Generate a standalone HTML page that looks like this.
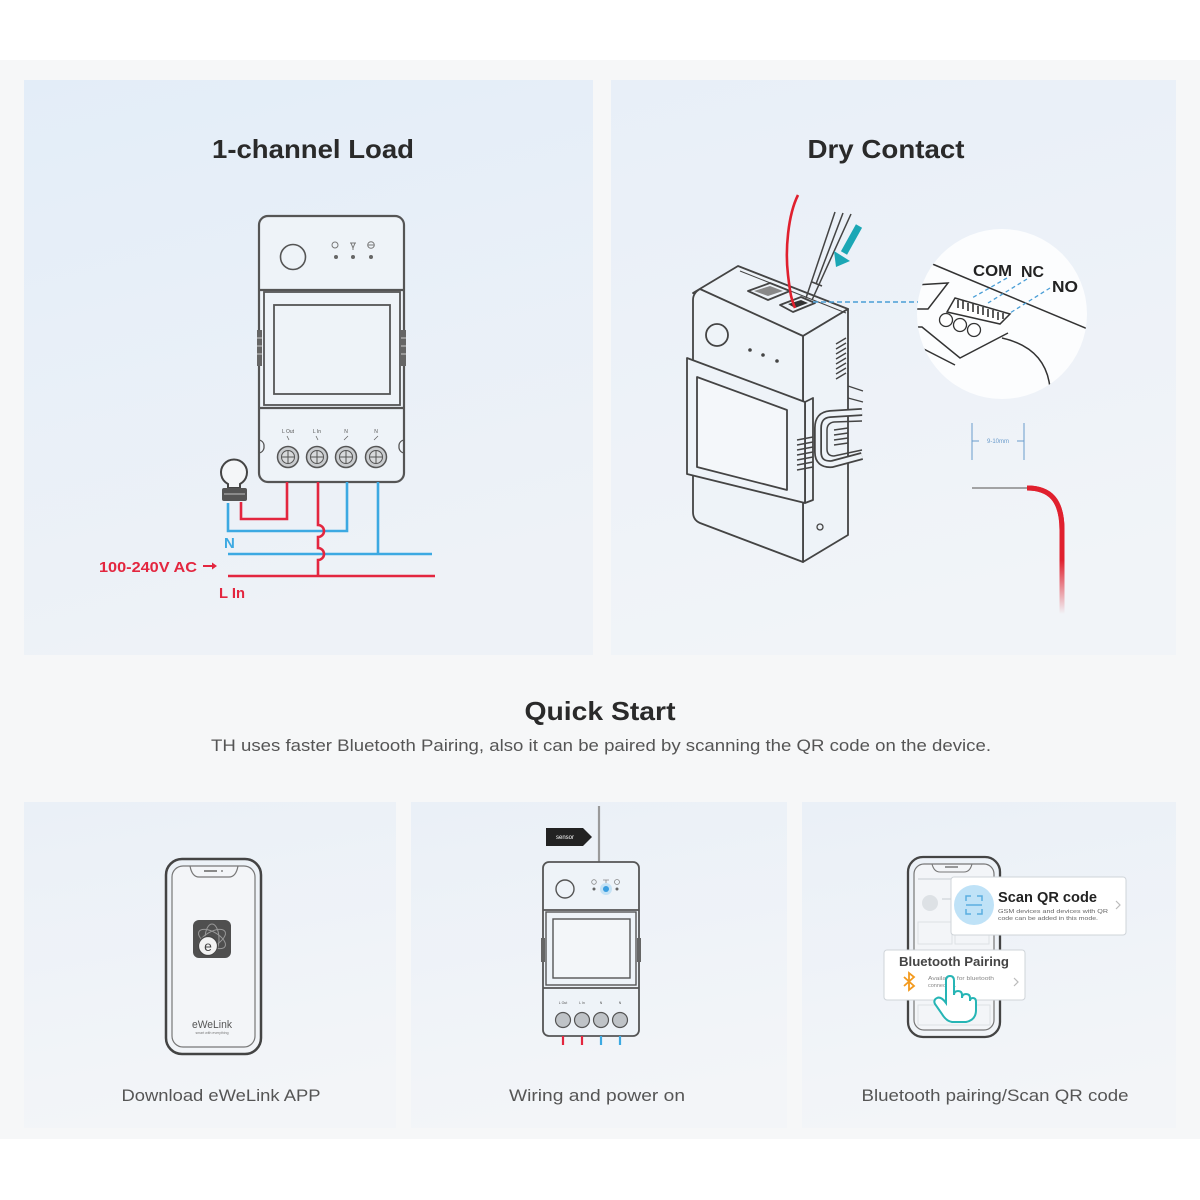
<!DOCTYPE html>
<html><head><meta charset="utf-8"><style>
html,body{margin:0;padding:0;background:#fff;}
svg{display:block}
text{font-family:"Liberation Sans",sans-serif}
</style></head><body>
<svg width="1200" height="1200" viewBox="0 0 1200 1200" xmlns="http://www.w3.org/2000/svg">
<defs>
<linearGradient id="gA" x1="0" y1="0" x2="0.25" y2="1">
<stop offset="0" stop-color="#e3edf8"/><stop offset="1" stop-color="#eef2f7"/>
</linearGradient>
<linearGradient id="gB" x1="0" y1="0" x2="0.25" y2="1">
<stop offset="0" stop-color="#e8eff8"/><stop offset="1" stop-color="#f1f4f8"/>
</linearGradient>
<linearGradient id="gC" x1="0" y1="0" x2="0.2" y2="1">
<stop offset="0" stop-color="#eaf0f7"/><stop offset="1" stop-color="#f3f5f8"/>
</linearGradient>
<linearGradient id="wireFade" gradientUnits="userSpaceOnUse" x1="0" y1="560" x2="0" y2="614">
<stop offset="0" stop-color="#e0202e" stop-opacity="1"/><stop offset="1" stop-color="#e0202e" stop-opacity="0"/>
</linearGradient>
<clipPath id="cc"><circle cx="1002" cy="314" r="85"/></clipPath>
</defs>

<rect width="1200" height="1200" fill="#fff"/>
<rect x="0" y="60" width="1200" height="1079" fill="#f6f7f8"/>
<rect x="24" y="80" width="569" height="575" fill="url(#gA)"/>
<rect x="611" y="80" width="565" height="575" fill="url(#gB)"/>
<rect x="24" y="802" width="372" height="326" fill="url(#gC)"/>
<rect x="411" y="802" width="376" height="326" fill="url(#gC)"/>
<rect x="802" y="802" width="374" height="326" fill="url(#gC)"/>

<!-- titles -->
<text x="313" y="158" font-size="26" font-weight="bold" fill="#2a2a2a" text-anchor="middle" textLength="202" lengthAdjust="spacingAndGlyphs">1-channel Load</text>
<text x="886" y="158" font-size="26" font-weight="bold" fill="#2a2a2a" text-anchor="middle" textLength="157" lengthAdjust="spacingAndGlyphs">Dry Contact</text>
<text x="600" y="720" font-size="26" font-weight="bold" fill="#2a2a2a" text-anchor="middle" textLength="151" lengthAdjust="spacingAndGlyphs">Quick Start</text>
<text x="601" y="751" font-size="17" fill="#555" text-anchor="middle" textLength="780" lengthAdjust="spacingAndGlyphs">TH uses faster Bluetooth Pairing, also it can be paired by scanning the QR code on the device.</text>
<text x="221" y="1101" font-size="17" fill="#555" text-anchor="middle" textLength="199" lengthAdjust="spacingAndGlyphs">Download eWeLink APP</text>
<text x="597" y="1101" font-size="17" fill="#555" text-anchor="middle" textLength="176" lengthAdjust="spacingAndGlyphs">Wiring and power on</text>
<text x="995" y="1101" font-size="17" fill="#555" text-anchor="middle" textLength="267" lengthAdjust="spacingAndGlyphs">Bluetooth pairing/Scan QR code</text>

<!-- ============ LEFT DEVICE ============ -->
<g stroke="#555" stroke-width="2.2" fill="none">
  <rect x="259" y="216" width="145" height="266" rx="9" fill="#eef3f8"/>
  <line x1="259" y1="290" x2="404" y2="290"/>
  <rect x="264" y="292" width="136" height="113" stroke-width="1.8"/>
  <rect x="274" y="305" width="116" height="89" stroke-width="1.8"/>
  <line x1="259" y1="408" x2="404" y2="408"/>
  <circle cx="293" cy="257" r="12.5" stroke-width="1.6"/>
  <path d="M259 440 a6 6 0 0 1 5 5 v3 a6 6 0 0 1 -5 5" stroke-width="1.3"/>
  <path d="M404 440 a6 6 0 0 0 -5 5 v3 a6 6 0 0 0 5 5" stroke-width="1.3"/>
</g>
<rect x="257" y="330" width="5" height="36" fill="#666"/>
<rect x="401" y="330" width="5" height="36" fill="#666"/>
<g stroke="#ccc" stroke-width="1"><line x1="257" y1="338" x2="262" y2="338"/><line x1="257" y1="346" x2="262" y2="346"/><line x1="257" y1="354" x2="262" y2="354"/><line x1="401" y1="338" x2="406" y2="338"/><line x1="401" y1="346" x2="406" y2="346"/><line x1="401" y1="354" x2="406" y2="354"/></g>
<g stroke="#777" stroke-width="1" fill="none">
  <circle cx="335" cy="245" r="3"/>
  <path d="M350 243 L356 243 M351 243 L353 248 L355 243 M353 248 V250"/>
  <circle cx="371" cy="245" r="3.3"/><line x1="367.7" y1="245" x2="374.3" y2="245"/>
</g>
<g fill="#666"><circle cx="336" cy="257" r="2"/><circle cx="353" cy="257" r="2"/><circle cx="371" cy="257" r="2"/></g>
<g font-size="5" fill="#555" text-anchor="middle">
  <text x="288" y="433">L Out</text><text x="317" y="433">L In</text><text x="346" y="433">N</text><text x="376" y="433">N</text>
</g>
<g stroke="#666" stroke-width="0.8"><line x1="287" y1="436" x2="289" y2="440"/><line x1="316" y1="436" x2="318" y2="440"/><line x1="344" y1="440" x2="348" y2="436"/><line x1="374" y1="440" x2="378" y2="436"/></g>
<g stroke="#555" stroke-width="1.5">
  <circle cx="288" cy="457" r="10.5" fill="#c9cccf"/><circle cx="317" cy="457" r="10.5" fill="#c9cccf"/><circle cx="346" cy="457" r="10.5" fill="#c9cccf"/><circle cx="376" cy="457" r="10.5" fill="#c9cccf"/>
  <g fill="#d8dadc" stroke-width="1"><circle cx="288" cy="457" r="6.5"/><circle cx="317" cy="457" r="6.5"/><circle cx="346" cy="457" r="6.5"/><circle cx="376" cy="457" r="6.5"/></g>
  <path stroke-width="1" d="M282 457 H294 M288 451 V463 M311 457 H323 M317 451 V463 M340 457 H352 M346 451 V463 M370 457 H382 M376 451 V463"/>
</g>

<!-- wires left -->
<g fill="none" stroke-width="2.6">
  <path d="M228 503 V531 H347 V482" stroke="#3ca9e2"/>
  <path d="M228 554 H432" stroke="#3ca9e2"/>
  <path d="M378 482 V554" stroke="#3ca9e2"/>
  <path d="M287 482 V519 H241 V502" stroke="#e3263f"/>
  <path d="M228 576 H435" stroke="#e3263f"/>
  <path d="M318 482 V525 a6 6 0 0 1 0 12 V548 a6 6 0 0 1 0 12 V576" stroke="#e3263f"/>
</g>
<!-- bulb -->
<g stroke="#444" stroke-width="2" fill="#f4f6f8">
  <path d="M228 488 L228 484 A13 13 0 1 1 240 484 L240 488 Z"/>
</g>
<rect x="222" y="488" width="25" height="13" rx="2" fill="#555"/>
<line x1="224" y1="494" x2="245" y2="494" stroke="#aaa" stroke-width="1.2"/>

<text x="224" y="548" font-size="15" font-weight="bold" fill="#3ca9e2">N</text>
<text x="99" y="572" font-size="15" font-weight="bold" fill="#e3263f" textLength="98" lengthAdjust="spacingAndGlyphs">100-240V AC</text>
<path d="M203 566 H214" stroke="#e3263f" stroke-width="2"/><path d="M212 562.5 L217 566 L212 569.5 Z" fill="#e3263f"/>
<text x="219" y="598" font-size="15" font-weight="bold" fill="#e3263f" textLength="26" lengthAdjust="spacingAndGlyphs">L In</text>

<!-- ============ RIGHT DEVICE ============ -->
<g stroke="#444" stroke-width="1.8" fill="#eef3f8" stroke-linejoin="round">
  <path d="M693 293 L738 266 L848 309 L803 336 Z"/>
  <path d="M803 336 L848 309 L848 535 L803 562 Z"/>
  <path d="M700 289 Q693 293 693 300 L693 512 Q693 520 700 523 L803 562 L803 336 Z"/>
  <path d="M805 402 L813 398 L813 500 L805 503 Z"/>
  <path d="M687 358 L805 402 L805 503 L687 474 Z"/>
  <path d="M697 377 L787 410 L787 490 L697 467 Z" fill="#f4f7fa"/>
  <path d="M748 291 L770 283 L790 291 L768 300 Z"/>
  <path d="M780 305 L801 297 L815 303 L793 312 Z"/>
</g>
<path d="M754 291 L770 286 L783 291 L768 296 Z" fill="#888"/>
<path d="M788 304 L801 300 L808 303 L795 308 Z" fill="#333"/>
<line x1="740" y1="271" x2="846" y2="313" stroke="#444" stroke-width="1"/>
<circle cx="717" cy="335" r="11" fill="none" stroke="#444" stroke-width="1.8"/>
<g fill="#444"><circle cx="750" cy="350" r="1.8"/><circle cx="763" cy="355" r="1.8"/><circle cx="777" cy="361" r="1.8"/></g>
<circle cx="820" cy="527" r="3" fill="none" stroke="#444" stroke-width="1.3"/>
<g stroke="#444" stroke-width="1.4">
  <line x1="836" y1="344" x2="846" y2="338"/><line x1="836" y1="349" x2="846" y2="343"/><line x1="836" y1="354" x2="846" y2="348"/><line x1="836" y1="359" x2="846" y2="353"/><line x1="836" y1="364" x2="846" y2="358"/><line x1="836" y1="369" x2="846" y2="363"/><line x1="836" y1="374" x2="846" y2="368"/><line x1="836" y1="379" x2="846" y2="373"/>
  <line x1="797" y1="440" x2="813" y2="437"/><line x1="797" y1="445" x2="813" y2="442"/><line x1="797" y1="450" x2="813" y2="447"/><line x1="797" y1="455" x2="813" y2="452"/><line x1="797" y1="460" x2="813" y2="457"/><line x1="797" y1="465" x2="813" y2="462"/><line x1="797" y1="470" x2="813" y2="467"/>
</g>
<!-- clip -->
<path d="M862 412 L830 414 Q818 415 818 428 L818 452 Q818 465 832 464 L862 456" fill="none" stroke="#444" stroke-width="8"/>
<path d="M862 412 L830 414 Q818 415 818 428 L818 452 Q818 465 832 464 L862 456" fill="none" stroke="#eef3f8" stroke-width="4.5"/>
<path d="M862 421 L834 422 Q827 423 827 430 L827 449 Q827 456 834 456 L862 450" fill="none" stroke="#444" stroke-width="1.5"/>
<g stroke="#444" stroke-width="1.4"><line x1="834" y1="430" x2="848" y2="428"/><line x1="834" y1="435" x2="848" y2="433"/><line x1="834" y1="440" x2="848" y2="438"/><line x1="834" y1="445" x2="848" y2="443"/></g>
<path d="M848 386 L863 391 M848 398 L863 402" stroke="#444" stroke-width="1.2"/>

<!-- red wire & screwdriver -->
<path d="M798 195 C788 215 785 250 788 275 S792 300 795 308" fill="none" stroke="#e0202e" stroke-width="2.6"/>
<g stroke="#444" stroke-width="1.5" fill="none">
  <path d="M835 212 L806 298"/><path d="M851 214 L812 300"/><path d="M843 213 L816 284"/>
  <path d="M812 282 L822 286"/>
</g>
<!-- teal arrow -->
<line x1="859" y1="226" x2="844" y2="253" stroke="#1ba7b5" stroke-width="7"/>
<path d="M836 267 L850 261 L834 251 Z" fill="#1ba7b5"/>
<!-- dashed -->
<line x1="813" y1="302" x2="918" y2="302" stroke="#4a9ed6" stroke-width="1.6" stroke-dasharray="5 3"/>

<!-- zoom circle -->
<circle cx="1002" cy="314" r="85" fill="#fcfdfe"/>
<g clip-path="url(#cc)" stroke="#333" stroke-width="1.5" fill="none">
  <line x1="930" y1="263" x2="1090" y2="330"/>
  <path d="M915 285 L948 283 L928 309 L912 309"/>
  <path d="M912 327 L922 327 L960 358 L1008 333"/>
  <path d="M912 343 L955 365"/>
  <path d="M1002 338 Q1046 348 1050 388"/>
  <path d="M955 298 L1010 314 L1000 324 L947 312 Z" fill="#fff"/>
  <path d="M958 300 v8 M963 301 v8 M968 303 v8 M973 304 v8 M978 306 v8 M983 307 v8 M988 309 v8 M993 310 v8 M998 312 v8 M1003 313 v6" stroke-width="1.6"/>
  <circle cx="946" cy="320" r="6.5" fill="#fff" stroke-width="1.3"/>
  <circle cx="960" cy="325" r="6.5" fill="#fff" stroke-width="1.3"/>
  <circle cx="974" cy="330" r="6.5" fill="#fff" stroke-width="1.3"/>
</g>
<g stroke="#4a9ed6" stroke-width="1.3" stroke-dasharray="4 3">
  <line x1="1007" y1="278" x2="972" y2="298"/>
  <line x1="1027" y1="279" x2="988" y2="303"/>
  <line x1="1050" y1="288" x2="1010" y2="313"/>
</g>
<text x="973" y="276" font-size="16" font-weight="bold" fill="#222" textLength="39" lengthAdjust="spacingAndGlyphs">COM</text>
<text x="1021" y="277" font-size="16" font-weight="bold" fill="#222" textLength="23" lengthAdjust="spacingAndGlyphs">NC</text>
<text x="1052" y="292" font-size="16" font-weight="bold" fill="#222" textLength="26" lengthAdjust="spacingAndGlyphs">NO</text>

<!-- dimension -->
<g stroke="#6a9ccc" stroke-width="1">
  <line x1="972" y1="423" x2="972" y2="460"/><line x1="1024" y1="423" x2="1024" y2="460"/>
  <line x1="972" y1="441" x2="979" y2="441"/><line x1="1017" y1="441" x2="1024" y2="441"/>
</g>
<text x="998" y="443" font-size="6" fill="#6a9ccc" text-anchor="middle">9-10mm</text>
<line x1="972" y1="488" x2="1028" y2="488" stroke="#888" stroke-width="1.6"/>
<path d="M1027 488 C1050 488 1062 500 1062 530 V614" fill="none" stroke="url(#wireFade)" stroke-width="5"/>
<path d="M1027 488 C1050 488 1062 500 1062 530 V560" fill="none" stroke="#e0202e" stroke-width="5"/>

<!-- ============ BOTTOM PANEL 1 ============ -->
<rect x="166" y="859" width="95" height="195" rx="16" fill="none" stroke="#444" stroke-width="2.5"/>
<rect x="172" y="866" width="83" height="181" rx="11" fill="#f3f5f8" stroke="#777" stroke-width="1.2"/>
<path d="M190 866 Q192 877 199 877 H229 Q236 877 238 866" fill="none" stroke="#777" stroke-width="1.2"/>
<line x1="204" y1="871" x2="217" y2="871" stroke="#666" stroke-width="1.5"/>
<circle cx="222" cy="871" r="0.9" fill="#666"/>
<rect x="193" y="920" width="38" height="38" rx="6" fill="#4f4f4f"/>
<g stroke="#999" stroke-width="1" fill="none">
  <ellipse cx="212" cy="939" rx="15" ry="7" transform="rotate(30 212 939)"/>
  <ellipse cx="212" cy="939" rx="15" ry="7" transform="rotate(-30 212 939)"/>
  <ellipse cx="212" cy="939" rx="15" ry="7" transform="rotate(90 212 939)"/>
</g>
<circle cx="208" cy="946" r="9.5" fill="#f2f2f2" stroke="#444" stroke-width="1.2"/>
<text x="208" y="951" font-size="14" fill="#444" text-anchor="middle">e</text>
<text x="212" y="1028" font-size="11" fill="#555" text-anchor="middle" textLength="40" lengthAdjust="spacingAndGlyphs">eWeLink</text>
<text x="212" y="1034" font-size="3.5" fill="#777" text-anchor="middle">smart with everything</text>

<!-- ============ BOTTOM PANEL 2 ============ -->
<line x1="599" y1="806" x2="599" y2="862" stroke="#9a9a9a" stroke-width="2.2"/>
<path d="M546 828 H583 L592 837 L583 846 H546 Z" fill="#222"/>
<text x="565" y="839" font-size="6" fill="#fff" text-anchor="middle">sensor</text>
<g stroke="#555" stroke-width="1.8" fill="none">
  <rect x="543" y="862" width="96" height="174" rx="6" fill="#eef3f8"/>
  <line x1="543" y1="910" x2="639" y2="910"/>
  <rect x="546" y="912" width="90" height="73" stroke-width="1.4"/>
  <rect x="553" y="919" width="77" height="59" stroke-width="1.4" fill="#f3f6f9"/>
  <line x1="543" y1="988" x2="639" y2="988"/>
  <circle cx="565" cy="889" r="9" stroke-width="1.4"/>
</g>
<rect x="541" y="938" width="4" height="24" fill="#666"/>
<rect x="637" y="938" width="4" height="24" fill="#666"/>
<g stroke="#888" stroke-width="0.8" fill="none"><circle cx="594" cy="882" r="2.3"/><path d="M603 880 h6 M606 880 v5"/><circle cx="617" cy="882" r="2.5"/></g>
<circle cx="606" cy="889" r="6" fill="#c4e2f5"/>
<circle cx="606" cy="889" r="3" fill="#3a9ee0"/>
<circle cx="594" cy="889" r="1.5" fill="#666"/><circle cx="617" cy="889" r="1.5" fill="#666"/>
<g font-size="3.5" fill="#555" text-anchor="middle"><text x="563" y="1004">L Out</text><text x="582" y="1004">L In</text><text x="601" y="1004">N</text><text x="620" y="1004">N</text></g>
<g stroke="#555" stroke-width="1.2" fill="#bfc3c7">
  <circle cx="563" cy="1020" r="7.5"/><circle cx="582" cy="1020" r="7.5"/><circle cx="601" cy="1020" r="7.5"/><circle cx="620" cy="1020" r="7.5"/>
</g>
<g stroke-width="2.2"><line x1="563" y1="1036" x2="563" y2="1045" stroke="#e3263f"/><line x1="582" y1="1036" x2="582" y2="1045" stroke="#e3263f"/><line x1="601" y1="1036" x2="601" y2="1045" stroke="#3ca9e2"/><line x1="620" y1="1036" x2="620" y2="1045" stroke="#3ca9e2"/></g>

<!-- ============ BOTTOM PANEL 3 ============ -->
<rect x="908" y="857" width="92" height="180" rx="15" fill="none" stroke="#444" stroke-width="2.3"/>
<rect x="914" y="864" width="80" height="166" rx="10" fill="#f3f5f8" stroke="#777" stroke-width="1.2"/>
<path d="M932 864 Q934 872 940 872 H964 Q970 872 972 864" fill="none" stroke="#777" stroke-width="1.1"/>
<line x1="945" y1="867" x2="958" y2="867" stroke="#666" stroke-width="1.3"/>
<g fill="#dde1e5">
  <rect x="918" y="878" width="72" height="2"/>
  <circle cx="930" cy="903" r="8"/>
  <rect x="942" y="898" width="12" height="2"/>
  <rect x="918" y="922" width="34" height="22" fill="none" stroke="#dde1e5"/>
  <rect x="955" y="922" width="34" height="22" fill="none" stroke="#dde1e5"/>
  <rect x="918" y="1005" width="72" height="20" fill="none" stroke="#dde1e5"/>
</g>
<rect x="951" y="877" width="175" height="58" rx="3" fill="#fff" stroke="#cfd4d9" stroke-width="1"/>
<circle cx="974" cy="905" r="20" fill="#bfe2f7"/>
<g stroke="#5aaee0" stroke-width="1.5" fill="none">
  <path d="M966 901 v-5 h5 M977 896 h5 v5 M982 909 v5 h-5 M971 914 h-5 v-5"/>
  <line x1="966" y1="905" x2="982" y2="905"/>
</g>
<text x="998" y="902" font-size="14.5" font-weight="bold" fill="#222" textLength="99" lengthAdjust="spacingAndGlyphs">Scan QR code</text>
<text x="998" y="913" font-size="5.5" fill="#666" textLength="110" lengthAdjust="spacingAndGlyphs">GSM devices and devices with QR</text>
<text x="998" y="920" font-size="5.5" fill="#666" textLength="100" lengthAdjust="spacingAndGlyphs">code can be added in this mode.</text>
<path d="M1116 901 L1120 905 L1116 909" fill="none" stroke="#bbb" stroke-width="1.2"/>

<rect x="884" y="950" width="141" height="50" rx="3" fill="#fff" stroke="#cfd4d9" stroke-width="1"/>
<text x="899" y="966" font-size="12.5" font-weight="bold" fill="#444" textLength="110" lengthAdjust="spacingAndGlyphs">Bluetooth Pairing</text>
<path d="M904 977 L914 986 L909 990 V973 L914 977 L904 986" fill="none" stroke="#f39a1e" stroke-width="1.8"/>
<text x="928" y="980" font-size="5.5" fill="#888" textLength="66" lengthAdjust="spacingAndGlyphs">Available for bluetooth</text>
<text x="928" y="987" font-size="5.5" fill="#888">connection.</text>
<path d="M1014 978 L1018 982 L1014 986" fill="none" stroke="#bbb" stroke-width="1.2"/>
<!-- hand -->
<path d="M946 1000 V981 Q946 976 950 976 Q954 976 954 981 V995 Q954 991 958 991 Q962 991 962 995 V998 Q962 994 966 994 Q970 994 970 998 V1001 Q970 998 973 998 Q976 998 976 1002 V1010 Q976 1020 966 1022 H952 Q946 1021 942 1014 L935 1004 Q933 1000 937 998 Q941 996 946 1003 Z" fill="#fff" stroke="#26b5b5" stroke-width="2"/>
</svg>
</body></html>
